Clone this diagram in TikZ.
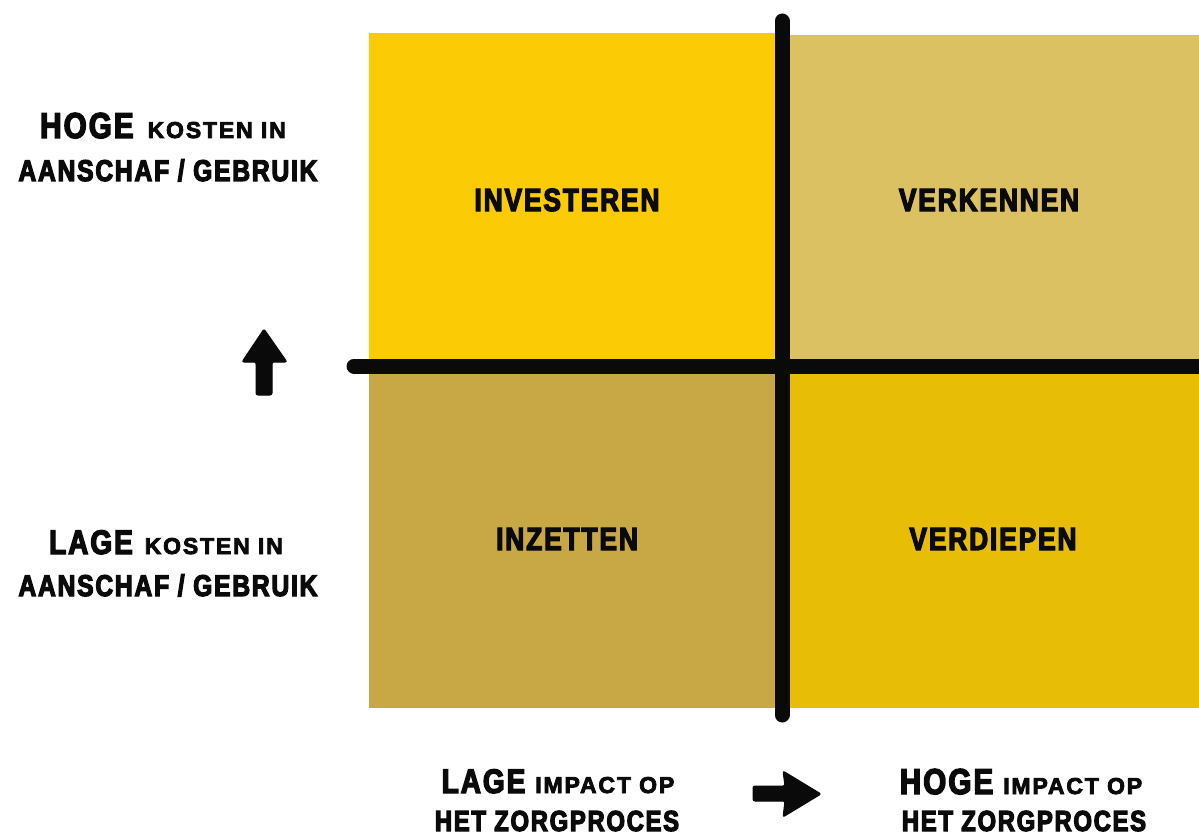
\documentclass[tikz,border=0pt]{standalone}
\usepackage{fontspec}
\newfontfamily\cond{Liberation Sans Bold}[FakeStretch=0.82,LetterSpace=6,FakeBold=4]
\newfontfamily\condw{Liberation Sans Bold}[FakeStretch=1.0,LetterSpace=8,FakeBold=3.5]
\definecolor{qTL}{HTML}{FBCB05}
\definecolor{qTR}{HTML}{DCC162}
\definecolor{qBL}{HTML}{C8A845}
\definecolor{qBR}{HTML}{E8BD05}
\definecolor{ink}{HTML}{0A0A0A}
\tikzset{
  lbl/.style={font=\cond, text=ink, inner sep=0pt, anchor=base},
  qlbl/.style={font=\cond\fontsize{32}{32}\selectfont, text=ink, inner sep=0pt, anchor=center},
  axisline/.style={line width=15pt, line cap=round, draw=ink},
  fatarrow/.style={fill=ink, draw=ink, line width=1pt, rounded corners=2pt}
}
\newcommand{\lblbig}[2]{{\fontsize{#1}{#1}\selectfont #2}}
\newcommand{\lblsml}[1]{{\condw\fontsize{23}{23}\selectfont #1}}
\newcommand{\lblmid}[1]{{\fontsize{30}{30}\selectfont #1}}
\begin{document}
\begin{tikzpicture}[x=1pt,y=-1pt]
\useasboundingbox (0,0) rectangle (1199,837);
\fill[white] (0,0) rectangle (1199,837);
% quadrants
\fill[qTL] (369,33) rectangle (782,367);
\fill[qTR] (782,35) rectangle (1199,367);
\fill[qBL] (369,367) rectangle (782,708);
\fill[qBR] (782,367) rectangle (1199,708);
% quadrant labels
\node[qlbl] (investeren) at (567,200) {INVESTEREN};
\node[qlbl] (verkennen) at (989,200) {VERKENNEN};
\node[qlbl] (inzetten) at (567,539) {INZETTEN};
\node[qlbl] (verdiepen) at (993,539) {VERDIEPEN};
% axes
\draw[axisline] (782,21) -- (782,715);
\draw[axisline] (354,366) -- (1205,366);
% left labels
\node[lbl] (hogeA) at (163,138) {\lblbig{36}{HOGE}\hspace{14pt}\lblsml{KOSTEN IN}};
\node[lbl] (hogeB) at (168,181) {\lblmid{AANSCHAF / GEBRUIK}};
\node[lbl] (lageA) at (166,554) {\lblbig{34}{LAGE}\hspace{12pt}\lblsml{KOSTEN IN}};
\node[lbl] (lageB) at (168,596) {\lblmid{AANSCHAF / GEBRUIK}};
% bottom labels
\node[lbl] (limpA) at (558,793) {\lblbig{34}{LAGE}\hspace{10pt}\lblsml{IMPACT OP}};
\node[lbl] (limpB) at (557,831) {\lblbig{29}{HET ZORGPROCES}};
\node[lbl] (himpA) at (1021,794) {\lblbig{36}{HOGE}\hspace{10pt}\lblsml{IMPACT OP}};
\node[lbl] (himpB) at (1024,831) {\lblbig{29}{HET ZORGPROCES}};
% arrows
\filldraw[fatarrow] (256,395) -- (256,362) -- (242,362) -- (264,329) -- (287,362) -- (272,362) -- (272,395) -- cycle;
\filldraw[fatarrow] (753,786) -- (785,786) -- (783,771) -- (821,794) -- (783,817) -- (785,801) -- (753,801) -- cycle;
\end{tikzpicture}
\end{document}
